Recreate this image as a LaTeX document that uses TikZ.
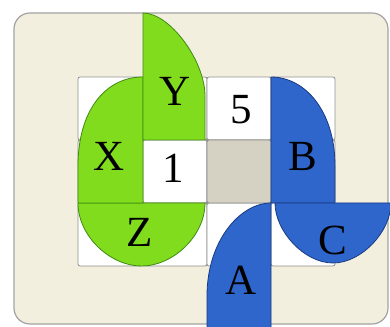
\documentclass[tikz,border=0pt]{standalone}
\usepackage{fontspec}
\setmainfont{Liberation Serif}
\definecolor{bgcream}{HTML}{F3EFDF}
\definecolor{bgedge}{HTML}{A3A3A3}
\definecolor{celledge}{HTML}{8E8E8E}
\definecolor{cellgray}{HTML}{D5D1C3}
\definecolor{leaf}{HTML}{82DC1E}
\definecolor{leafedge}{HTML}{3E8A12}
\definecolor{petal}{HTML}{2E66CC}
\definecolor{petaledge}{HTML}{1A3A80}
\tikzset{
  cellbox/.style={fill=white, draw=celledge, line width=0.8pt, rounded corners=2pt},
  greenpart/.style={fill=leaf, draw=leafedge, line width=0.8pt},
  bluepart/.style={fill=petal, draw=petaledge, line width=0.8pt},
  glyph/.style={font=\fontsize{43}{43}\selectfont, text=black, inner sep=0pt}
}
\begin{document}
\begin{tikzpicture}[x=1pt,y=1pt]
\useasboundingbox (0,0) rectangle (390,326);
\clip (0,0) rectangle (390,326);
% background panel
\draw[fill=bgcream, draw=bgedge, line width=1.2pt, rounded corners=16pt] (14,2) rectangle (388,313);
% grid cells (columns 78,143,207,271,335; rows 249,186,123,60)
\foreach \xa/\xb in {78/143,143/207,207/271,271/335}{
  \foreach \ya/\yb in {186/249,123/186,60/123}{
    \draw[cellbox] (\xa,\ya) rectangle (\xb,\yb);
  }
}
\draw[cellbox, fill=cellgray] (207,123) rectangle (271,186);
% green shapes
\draw[greenpart] (78,123) .. controls (78,90) and (110,60) .. (141.5,60)
  .. controls (173,60) and (205,90) .. (205,123) -- cycle;
\draw[greenpart] (143,123) -- (78,123) -- (78,160)
  .. controls (78,215) and (105,249) .. (143,249) -- cycle;
\draw[greenpart] (143,186) -- (143,313)
  .. controls (170,313) and (205,265) .. (205,230) -- (205,186) -- cycle;
% blue shapes
\draw[bluepart] (271,123) -- (271,249)
  .. controls (305,249) and (335,215) .. (335,160) -- (335,123) -- cycle;
\draw[bluepart] (275,123) .. controls (275,95) and (304,63) .. (333,63)
  .. controls (362,63) and (391,95) .. (391,123) -- cycle;
\draw[bluepart] (271,123) .. controls (240,123) and (207,85) .. (207,30)
  -- (207,-10) -- (271,-10) -- cycle;
% labels
\node[glyph] (labY) at (175,235) {Y};
\node[glyph] (lab5) at (241,216) {5};
\node[glyph] (labX) at (109,170) {X};
\node[glyph] (lab1) at (173,158) {1};
\node[glyph] (labB) at (303,170) {B};
\node[glyph] (labZ) at (140,94) {Z};
\node[glyph] (labC) at (333,86) {C};
\node[glyph] (labA) at (241,46) {A};
\end{tikzpicture}
\end{document}
